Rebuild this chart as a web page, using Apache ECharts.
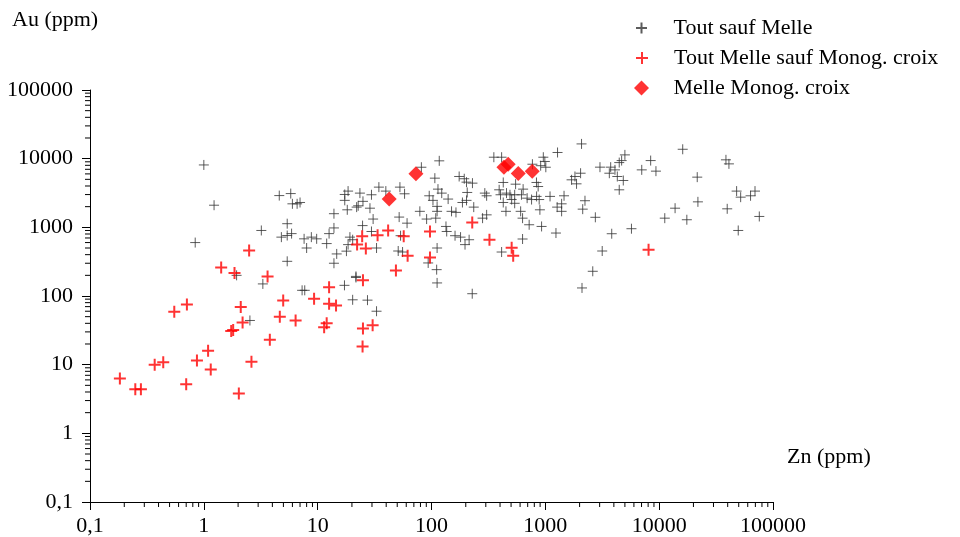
<!DOCTYPE html>
<html>
<head>
<meta charset="utf-8">
<script src="https://cdn.jsdelivr.net/npm/echarts@6/dist/echarts.min.js"></script>
<style>
  html, body { margin: 0; padding: 0; background: #fff; }
  #chart { width: 960px; height: 537px; }
</style>
</head>
<body>
<div id="chart"></div>
<script>
// [Zn, Au] en ppm
var toutSaufMelle = [
  [1.0, 8100], [1.23, 2100], [0.84, 600], [3.2, 900], [4.6, 2900], [5.8, 3100], [6.0, 2200], [6.6, 2200],
  [7.0, 2300], [5.4, 1130], [5.9, 810], [5.4, 760], [4.8, 720], [7.6, 680], [8.0, 500], [8.8, 720],
  [9.8, 680], [12, 580], [12.6, 810], [5.4, 320], [1.94, 200],
  [3.3, 150], [7.3, 121], [7.7, 121], [2.54, 44], [17.2, 143], [21.7, 186], [20.3, 88], [27.4, 87],
  [32.9, 60], [112, 155], [228, 108],
  [117, 9300], [81.5, 7500], [353, 10500], [413, 10500], [960, 10500], [990, 9100], [910, 7900], [1010, 7500],
  [1280, 12300], [770, 8300], [107, 5200], [175, 5500], [194, 5100], [203, 4550], [229, 4400], [427, 4500],
  [548, 4250], [836, 4500], [865, 3930], [34.5, 3850], [52.8, 3850], [58, 3080], [18.5, 3370], [17.3, 3010],
  [23.5, 3150], [29.7, 2980], [39.7, 3370], [17.3, 2470], [25, 2390], [22.7, 2060], [18.2, 1800], [28.8, 1900],
  [22, 1970], [13.9, 1580], [13.9, 980], [30.7, 1320], [24.8, 1060], [29.7, 870], [19.2, 720], [20.3, 660],
  [18.5, 560], [32.9, 500], [14.7, 410], [13.9, 300], [17.9, 450], [21.7, 193], [52, 1410], [61, 1150],
  [53.5, 755], [51, 452], [55.7, 437], [93.5, 303], [111, 242], [112, 500], [79, 1710], [90.6, 1320],
  [109, 1360], [112, 1710], [112, 2020], [95.5, 2880], [103, 2470], [114, 3600], [123, 3150], [140, 2580],
  [134, 1030], [136, 870], [161, 755], [180, 720], [197, 560], [214, 660], [150, 1710], [164, 1650],
  [187, 2300], [203, 2470], [206, 3220], [235, 1970], [294, 3150], [305, 2880], [281, 1360], [305, 1520],
  [393, 3520], [404, 2980], [456, 3150], [489, 2980], [506, 2540], [538, 2980], [638, 3600], [617, 2980],
  [692, 2660], [757, 2540], [838, 2820], [883, 2540], [427, 2300], [451, 1710], [538, 2240], [607, 1710],
  [631, 1360], [721, 1090], [896, 1800], [927, 1030], [1100, 2820], [1240, 826], [1270, 1970], [631, 676],
  [413, 437],
  [2080, 16400], [16100, 13700], [5000, 11350], [4460, 8770], [4680, 9380], [3750, 7520], [4090, 6870], [3020, 7520],
  [3650, 6140], [4290, 5500], [4840, 4810], [4460, 3520], [7030, 6870], [8420, 9380], [9370, 6580], [38600, 9620],
  [41000, 8400], [21600, 5380], [47900, 3370], [52000, 2750], [63500, 2880], [69500, 3370], [75800, 1440], [39600, 1860],
  [49500, 900], [21900, 2350], [13800, 1900], [11200, 1360], [17500, 1290], [5710, 955], [3830, 807], [3160, 452],
  [2610, 229], [2100, 131], [2230, 2440], [2130, 1840], [1460, 2880], [1390, 2200], [1390, 1710], [2750, 1400],
  [1700, 4920], [1820, 5500], [1880, 4300], [2040, 6140]
];

var melleSaufMonog = [
  [0.183, 6.3], [0.25, 4.4], [0.28, 4.4], [0.37, 10], [0.44, 10.8], [0.70, 5.2], [0.87, 11.5], [1.09, 16],
  [1.15, 8.5], [2.03, 3.8], [2.62, 11], [3.8, 23], [0.55, 59], [0.71, 75], [1.74, 31], [1.81, 32],
  [2.11, 69], [2.19, 41], [4.65, 50], [4.98, 86], [6.4, 44], [9.3, 91], [11.4, 35], [12, 40],
  [12.6, 134], [12.6, 77], [3.63, 193], [2.5, 461], [1.42, 261], [1.86, 217], [41.6, 900], [24.6, 740],
  [33.6, 770], [22.2, 560], [26.5, 490], [57, 740], [48.7, 236], [61.7, 386], [97, 870], [97, 365],
  [228, 1180], [323, 660], [506, 505], [522, 386], [25, 170], [14.5, 73], [25, 33.6], [30.4, 37.5],
  [24.8, 18.4], [8070, 472]
];

var melleMonog = [
  [42.5, 2580], [73, 6010], [433, 7520], [472, 8310], [578, 6070], [767, 6580]
];

var noms = ['Tout sauf Melle', 'Tout Melle sauf Monog. croix', 'Melle Monog. croix'];

// petites graduations 2..9 de chaque décade (les décades viennent de axisTick)
var decades = [0.1, 1, 10, 100, 1000, 10000];
var multiples = [2, 3, 4, 5, 6, 7, 8, 9];
var ticksMineurs = [];
decades.forEach(function (d) {
  multiples.forEach(function (m) { ticksMineurs.push(+(d * m).toPrecision(3)); });
});

var police = '"Liberation Serif", "Times New Roman", serif';
var croix = 'path://M0,-1L0,1M-1,0L1,0';
var losange = 'path://M0,-1L1,0L0,1L-1,0Z';

function virgule(v) {
  return String(v).replace('.', ',');
}

function axeLog(marge) {
  return {
    type: 'log',
    min: 0.1,
    max: 100000,
    axisLine: { show: true, lineStyle: { color: '#000' } },
    axisTick: { show: true, length: 8, lineStyle: { color: '#000', width: 1 } },
    splitLine: { show: false },
    axisLabel: {
      color: '#000',
      fontFamily: police,
      fontSize: 22,
      margin: marge,
      formatter: virgule
    }
  };
}

function legende(nom, icone, gauche, haut, h) {
  return {
    data: [{ name: nom, icon: icone }],
    orient: 'vertical',
    left: gauche,
    top: haut,
    padding: 0,
    itemWidth: 54,
    itemHeight: h,
    selectedMode: false,
    textStyle: { color: '#000', fontFamily: police, fontSize: 22 }
  };
}

var myChart = echarts.init(document.getElementById('chart'));
var option = {
  animation: false,
  grid: {
    left: 90,
    right: 187,
    top: 90,
    bottom: 34
  },
  legend: [
    legende(noms[0], croix, 635, 17, 11),
    legende(noms[1], croix, 635, 47, 12),
    legende(noms[2], losange, 634, 77, 15)
  ],
  xAxis: axeLog(13),
  yAxis: axeLog(17),
  graphic: [
    { type: 'text', x: 12, y: 20, style: { text: 'Au (ppm)', font: '22px ' + police, fill: '#000', verticalAlign: 'middle' } },
    { type: 'text', x: 787, y: 457, style: { text: 'Zn (ppm)', font: '22px ' + police, fill: '#000', verticalAlign: 'middle' } }
  ],
  series: [
    {
      name: noms[0],
      type: 'scatter',
      symbol: croix,
      symbolSize: 10,
      itemStyle: { color: '#333', borderColor: '#333', borderWidth: 1 },
      emphasis: { disabled: true },
      data: toutSaufMelle
    },
    {
      name: noms[1],
      type: 'scatter',
      symbol: croix,
      symbolSize: 12,
      itemStyle: { color: '#ff0000', borderColor: '#ff0000', borderWidth: 2 },
      emphasis: { disabled: true },
      data: melleSaufMonog
    },
    {
      name: noms[2],
      type: 'scatter',
      symbol: losange,
      symbolSize: 15,
      itemStyle: { color: '#ff0000' },
      emphasis: { disabled: true },
      data: melleMonog
    },
    {
      // petites graduations de l'axe X
      type: 'custom',
      clip: false,
      silent: true,
      z: 10,
      data: ticksMineurs.map(function (v) { return [v, 0.1]; }),
      renderItem: function (params, api) {
        var p = api.coord([api.value(0), 0.1]);
        return { type: 'line', shape: { x1: p[0], y1: p[1], x2: p[0], y2: p[1] + 5 }, style: { stroke: '#000', lineWidth: 1 } };
      }
    },
    {
      // petites graduations de l'axe Y
      type: 'custom',
      clip: false,
      silent: true,
      z: 10,
      data: ticksMineurs.map(function (v) { return [0.1, v]; }),
      renderItem: function (params, api) {
        var p = api.coord([0.1, api.value(1)]);
        return { type: 'line', shape: { x1: p[0], y1: p[1], x2: p[0] - 5, y2: p[1] }, style: { stroke: '#000', lineWidth: 1 } };
      }
    }
  ]
};
myChart.setOption(option);
</script>
</body>
</html>
